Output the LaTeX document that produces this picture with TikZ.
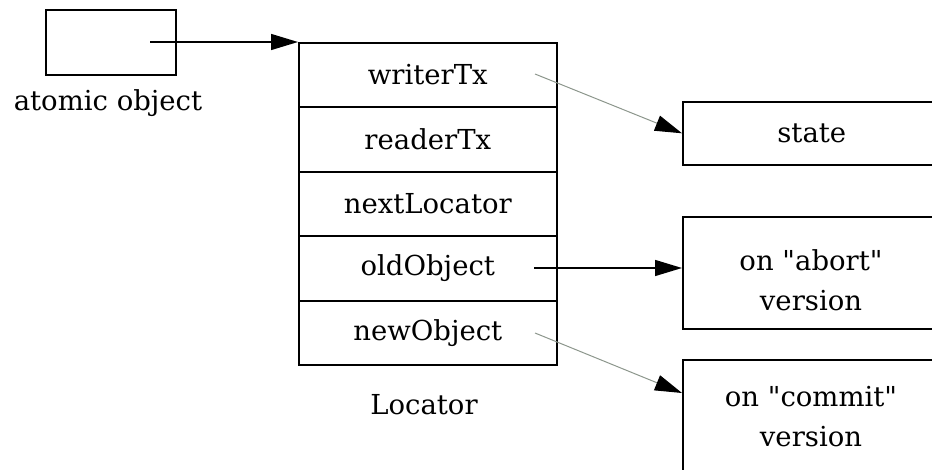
\documentclass[tikz,border=0pt]{standalone}
\usepackage{fontspec}
\setmainfont{DejaVu Serif}
\usetikzlibrary{arrows.meta,positioning}
\definecolor{softline}{RGB}{140,150,140}
\begin{document}
\begin{tikzpicture}[x=1pt,y=-1pt,
  every node/.style={font=\fontsize{27.5}{40}\selectfont, inner sep=0pt},
  box/.style={draw=black, line width=1.6pt},
  field/.style={box, minimum width=258pt, minimum height=64.5pt, anchor=north west},
  target/.style={box, align=center, anchor=north west},
  ptr/.style={line width=1.4pt, -{Triangle[length=27pt,width=16pt]}},
  softptr/.style={draw=softline, line width=1pt, -{Triangle[length=27pt,width=16pt,color=black]}}]
  \useasboundingbox (0,0) rectangle (932,470);
  \clip (0,0) rectangle (932,470);

  % atomic object
  \node[box, minimum width=130pt, minimum height=65pt, anchor=north west] (atom) at (45,9) {};
  \node (atomlbl) at (108,103) {atomic object};

  % Locator record
  \node[field] (writer) at (298,42)    {writerTx};
  \node[field] (reader) at (298,106.5) {readerTx};
  \node[field] (next)   at (298,171)   {nextLocator};
  \node[field] (old)    at (298,235.5) {oldObject};
  \node[field] (new)    at (298,300)   {newObject};
  \node (loclbl) at (424,405) {Locator};

  % targets
  \node[target, minimum width=258pt, minimum height=63pt] (state) at (682,101) {state};
  \node[target, minimum width=258pt, minimum height=112pt] (abort) at (682,216) {};
  \node[align=center] (aborttxt) at (811,280) {on \textquotedbl abort\textquotedbl\\version};
  \node[target, minimum width=258pt, minimum height=116pt] (commit) at (682,359) {};
  \node[align=center] (committxt) at (811,417) {on \textquotedbl commit\textquotedbl\\version};

  % pointers
  \coordinate (atomS) at (150,42);
  \coordinate (writerS) at (535,74);
  \coordinate (oldS) at (534,268);
  \coordinate (newS) at (535,333);
  \draw[ptr] (atomS) -- (writer.north west);
  \draw[softptr] (writerS) -- (state.west);
  \draw[ptr] (oldS) -- (oldS -| abort.west);
  \draw[softptr] (newS) -- (682,393);
\end{tikzpicture}
\end{document}
